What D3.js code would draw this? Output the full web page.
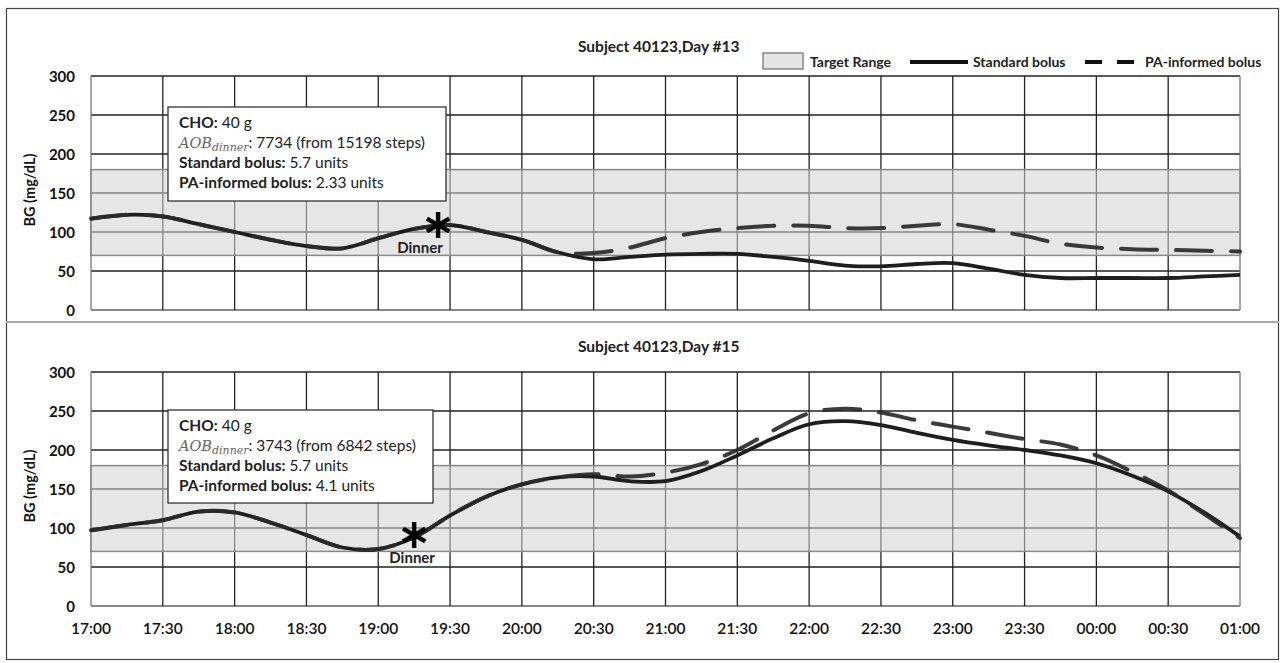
<!DOCTYPE html>
<html><head><meta charset="utf-8">
<script src="https://cdn.jsdelivr.net/npm/d3@7"></script>
<style>
html,body{margin:0;padding:0;background:#fff;}
svg{display:block;font-family:Lato,"Open Sans",sans-serif;}
</style></head>
<body><svg id="c" width="1285" height="663"></svg>
<script>
// ---------- data ----------
const times = ["17:00","17:15","17:30","17:45","18:00","18:15","18:30","18:45","19:00","19:15","19:30","19:45",
  "20:00","20:15","20:30","20:45","21:00","21:15","21:30","21:45","22:00","22:15","22:30","22:45",
  "23:00","23:15","23:30","23:45","00:00","00:15","00:30","00:45","01:00"];
const xTickLabels = ["17:00","17:30","18:00","18:30","19:00","19:30","20:00","20:30","21:00","21:30","22:00","22:30","23:00","23:30","00:00","00:30","01:00"];
const yTicks = [0,50,100,150,200,250,300];
const targetRange = [70,180];
const titles = ["Subject 40123,Day #13","Subject 40123,Day #15"];
const standardDay13 = [117,122,120,110,100,90,82,79,92,104,109,100,90,74,65,68,71,72,72,68,63,57,56,59,60,53,45,41,41,41,41,43,45];
const paDay13       = [117,122,120,110,100,90,82,79,92,104,109,100,90,74,73,80,92,100,105,108,108,105,105,108,110,103,95,85,80,78,77,76,75];
const standardDay15 = [97,104,110,121,120,107,91,75,73,88,116,140,156,165,166,160,160,173,193,215,233,237,232,222,213,206,200,193,183,167,147,120,89];
const paDay15       = [97,104,110,121,120,107,91,75,73,88,116,140,156,165,169,166,171,182,200,225,247,253,248,238,230,222,214,207,193,172,148,118,87];
const dinnerTimes = ["19:25","19:15"];
const dinnerValues = [109,91];
const cho = [40,40];
const aob = [7734,3743];
const steps = [15198,6842];
const stdBolus = ["5.7","5.7"];
const paBolus = ["2.33","4.1"];
const legendLabels = ["Target Range","Standard bolus","PA-informed bolus"];

// ---------- helpers ----------
const toDate = s => { const [h,m] = s.split(":").map(Number); return new Date(2000,0,h<12?2:1,h,m); };
const svg = d3.select("#c");
const lineColor = "#1e1e1e";

// outer frame and divider
svg.append("rect").attr("x",6.5).attr("y",8.5).attr("width",1272).attr("height",651)
  .attr("fill","none").attr("stroke","#444").attr("stroke-width",1.2);
svg.append("line").attr("x1",6).attr("x2",1279).attr("y1",322).attr("y2",322)
  .attr("stroke","#aaa").attr("stroke-width",2);

const x = d3.scaleTime().domain([toDate("17:00"),toDate("01:00")]).range([91,1240]);

const panels = [
  {top:76, bottom:310, titleY:52, std:standardDay13, pa:paDay13, box:[168,107,278,94], labDx:-18, legend:true, xAxis:false},
  {top:372, bottom:606, titleY:352, std:standardDay15, pa:paDay15, box:[168,410,265,93], labDx:-2, legend:false, xAxis:true}
];

panels.forEach((p,i) => {
  const g = svg.append("g");
  const y = d3.scaleLinear().domain([0,300]).range([p.bottom,p.top]);

  // grid
  g.append("g").selectAll("line").data(yTicks).join("line")
    .attr("x1",x.range()[0]).attr("x2",x.range()[1])
    .attr("y1",d=>y(d)).attr("y2",d=>y(d))
    .attr("stroke",d=>d===0?"#888":"#222").attr("stroke-width",d=>d===0?2:1.3);
  g.append("g").selectAll("line").data(xTickLabels).join("line")
    .attr("x1",d=>x(toDate(d))).attr("x2",d=>x(toDate(d)))
    .attr("y1",y(300)).attr("y2",y(0))
    .attr("stroke",(d,j)=>(j===0||j===xTickLabels.length-1)?"#777":"#222").attr("stroke-width",1.3);

  // target band (semi transparent over the grid)
  g.append("rect").attr("x",x.range()[0]).attr("width",x.range()[1]-x.range()[0])
    .attr("y",y(targetRange[1])).attr("height",y(targetRange[0])-y(targetRange[1]))
    .attr("fill","rgb(210,210,210)").attr("fill-opacity",0.56)
    .attr("stroke","#888").attr("stroke-width",1.5);

  // y axis labels
  g.append("g").selectAll("text").data(yTicks).join("text")
    .attr("x",75).attr("y",d=>y(d)+5.5).attr("text-anchor","end")
    .attr("font-size",15).attr("font-weight",700).attr("fill","#111").text(d=>d);
  g.append("text").attr("transform",`translate(35,${(p.top+p.bottom)/2 - 3}) rotate(-90)`)
    .attr("text-anchor","middle").attr("font-size",14.5).attr("font-weight",700).attr("fill","#111")
    .text("BG (mg/dL)");

  // title
  g.append("text").attr("x",578).attr("y",p.titleY).attr("font-size",15.5).attr("font-weight",700)
    .attr("fill","#222").text(titles[i]);

  // lines
  const line = d3.line().x((d,j)=>x(toDate(times[j]))).y(d=>y(d)).curve(d3.curveCatmullRom.alpha(0.5));
  g.append("path").datum(p.std).attr("d",line).attr("fill","none")
    .attr("stroke",lineColor).attr("stroke-width",3.8).attr("stroke-linejoin","round");
  g.append("path").datum(p.pa).attr("d",line).attr("fill","none")
    .attr("stroke","#2a2a2a").attr("stroke-width",4).attr("stroke-dasharray","36 19")
    .attr("stroke-linecap","round").attr("opacity",0.92);

  // dinner marker
  const dx = x(toDate(dinnerTimes[i])), dy = y(dinnerValues[i]);
  g.append("path").attr("transform",`translate(${dx},${dy})`)
    .attr("d",d3.symbol().type(d3.symbolAsterisk).size(470)())
    .attr("fill","none").attr("stroke","#000").attr("stroke-width",4.4);
  g.append("text").attr("x",dx+p.labDx).attr("y",dy+28).attr("text-anchor","middle")
    .attr("font-size",15).attr("font-weight",700).attr("fill","#222").text("Dinner");

  // annotation box
  const [bx,by,bw,bh] = p.box;
  g.append("rect").attr("x",bx).attr("y",by).attr("width",bw).attr("height",bh)
    .attr("fill","#fff").attr("stroke","#333").attr("stroke-width",1.3);
  const tx = bx+11, fs = 15.5;
  const t1 = g.append("text").attr("x",tx).attr("y",by+21).attr("font-size",fs).attr("fill","#222");
  t1.append("tspan").attr("font-weight",700).text("CHO:");
  t1.append("tspan").text(` ${cho[i]} g`);
  const t2 = g.append("text").attr("x",tx).attr("y",by+41).attr("font-size",fs).attr("fill","#222");
  t2.append("tspan").attr("font-family","'DejaVu Serif','Liberation Serif',serif").attr("font-style","italic")
    .attr("fill","#666").attr("font-size",14.5).text("AOB");
  t2.append("tspan").attr("font-family","'DejaVu Serif','Liberation Serif',serif").attr("font-style","italic")
    .attr("fill","#666").attr("font-size",11).attr("dy",3).text("dinner");
  t2.append("tspan").attr("dy",-3).text(`: ${aob[i]} (from ${steps[i]} steps)`);
  const t3 = g.append("text").attr("x",tx).attr("y",by+61).attr("font-size",fs).attr("fill","#222");
  t3.append("tspan").attr("font-weight",700).text("Standard bolus:");
  t3.append("tspan").text(` ${stdBolus[i]} units`);
  const t4 = g.append("text").attr("x",tx).attr("y",by+81).attr("font-size",fs).attr("fill","#222");
  t4.append("tspan").attr("font-weight",700).text("PA-informed bolus:");
  t4.append("tspan").text(` ${paBolus[i]} units`);

  // x axis labels
  if (p.xAxis) {
    g.append("g").selectAll("text").data(xTickLabels).join("text")
      .attr("x",d=>x(toDate(d))).attr("y",634).attr("text-anchor","middle")
      .attr("font-size",15.5).attr("font-weight",600).attr("fill","#111").text(d=>d);
  }

  // legend
  if (p.legend) {
    const lg = svg.append("g");
    lg.append("rect").attr("x",763).attr("y",53).attr("width",40).attr("height",16)
      .attr("fill","#e4e4e4").attr("stroke","#888").attr("stroke-width",1.5);
    lg.append("text").attr("x",810).attr("y",66.5).attr("font-size",14).attr("font-weight",700).attr("fill","#222").text(legendLabels[0]);
    lg.append("line").attr("x1",910).attr("x2",968).attr("y1",62).attr("y2",62).attr("stroke","#111").attr("stroke-width",3.8);
    lg.append("text").attr("x",973).attr("y",66.5).attr("font-size",14).attr("font-weight",700).attr("fill","#222").text(legendLabels[1]);
    lg.append("line").attr("x1",1085).attr("x2",1134).attr("y1",62).attr("y2",62).attr("stroke","#111").attr("stroke-width",3.8)
      .attr("stroke-dasharray","17 15");
    lg.append("text").attr("x",1145).attr("y",66.5).attr("font-size",14).attr("font-weight",700).attr("fill","#222").text(legendLabels[2]);
  }
});
</script></body></html>
